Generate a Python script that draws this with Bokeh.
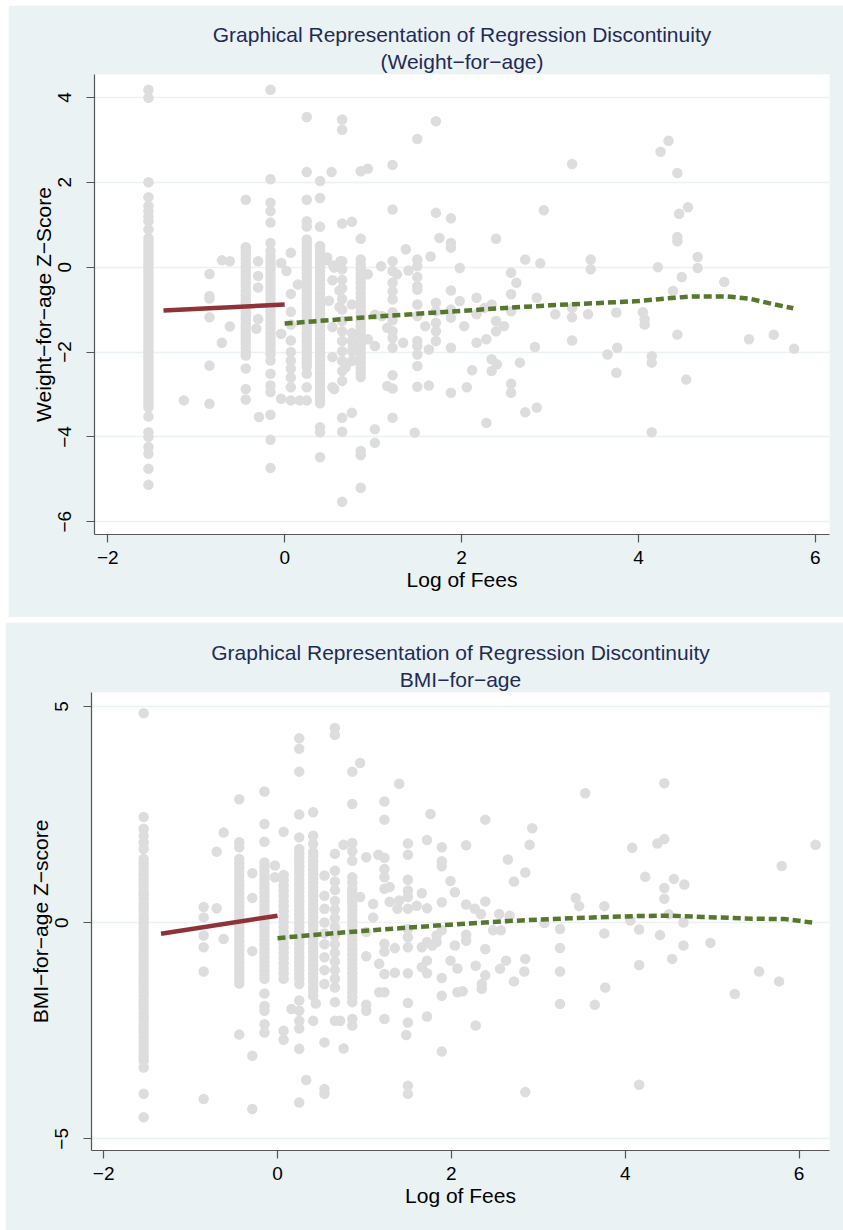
from bokeh.plotting import figure
from bokeh.models import Title, FixedTicker
from bokeh.layouts import column
from bokeh.embed import file_html
from bokeh.resources import INLINE

# ---------------- data: Weight-for-age panel ----------------
wfa_col_x = [-1.54, -0.44, -0.16, 0.07, 0.25, 0.40, 0.65, 0.86]
wfa_col_y = [
    [4.18, 3.99, 2.00, 1.65, 1.44, 1.32, 1.19, 1.08, 0.89, 0.68, 0.59, 0.51, 0.42, 0.33, 0.25, 0.16, 0.07,
     -0.02, -0.10, -0.19, -0.28, -0.36, -0.45, -0.54, -0.62, -0.71, -0.80, -0.88, -0.97, -1.06, -1.14, -1.23,
     -1.32, -1.40, -1.49, -1.58, -1.66, -1.75, -1.84, -1.92, -2.01, -2.10, -2.18, -2.27, -2.36, -2.44, -2.53,
     -2.62, -2.70, -2.79, -2.88, -2.96, -3.05, -3.14, -3.22, -3.30, -3.52, -3.89, -4.00, -4.24, -4.40, -4.75, -5.13],
    [1.59, 0.47, 0.38, 0.29, 0.19, 0.10, 0.00, -0.09, -0.19, -0.28, -0.38, -0.47, -0.57, -0.66, -0.76, -0.85,
     -0.95, -1.04, -1.14, -1.23, -1.33, -1.42, -1.52, -1.61, -1.71, -1.80, -1.90, -2.00, -2.08, -2.39, -2.87, -3.12],
    [4.18, 2.07, 1.52, 1.32, 1.05, 0.57, 0.38, 0.25, 0.15, 0.05, -0.05, -0.15, -0.25, -0.35, -0.45, -0.55, -0.65,
     -0.75, -0.85, -0.95, -1.05, -1.15, -1.25, -1.35, -1.45, -1.55, -1.65, -1.75, -1.85, -1.95, -2.05, -2.20,
     -2.51, -2.79, -2.94, -3.48, -4.07, -4.73],
    [0.34, -0.63, -1.05, -1.35, -1.73, -2.00, -2.20, -2.39, -2.60, -2.83, -3.14],
    [3.54, 2.24, 1.59, 1.08, 0.96, 0.65, 0.55, 0.45, 0.35, 0.25, 0.15, 0.05, -0.05, -0.15, -0.25, -0.35, -0.45,
     -0.55, -0.65, -0.75, -0.85, -0.95, -1.05, -1.15, -1.25, -1.35, -1.45, -1.55, -1.65, -1.75, -1.85, -1.95,
     -2.05, -2.15, -2.25, -2.35, -2.51, -2.83, -3.14],
    [2.03, 1.63, 0.95, 0.50, 0.40, 0.30, 0.20, 0.10, 0.00, -0.10, -0.20, -0.30, -0.40, -0.50, -0.60, -0.70, -0.80,
     -0.90, -1.00, -1.10, -1.20, -1.30, -1.40, -1.50, -1.60, -1.70, -1.80, -1.90, -2.00, -2.10, -2.20, -2.30,
     -2.40, -2.50, -2.60, -2.70, -2.80, -2.90, -3.00, -3.10, -3.21, -3.77, -3.89, -4.48],
    [3.48, 3.24, 1.03, 0.14, -0.05, -0.30, -0.50, -0.75, -1.00, -1.27, -1.51, -1.74, -1.98, -2.21, -2.45, -2.68,
     -3.55, -3.88, -5.53],
    [2.26, 0.67, 0.18, 0.06, -0.05, -0.16, -0.27, -0.38, -0.49, -0.60, -0.72, -0.83, -0.94, -1.05, -1.16, -1.27,
     -1.38, -1.49, -1.60, -1.71, -1.82, -1.93, -2.04, -2.15, -2.26, -2.37, -2.48, -2.59, -4.33, -4.43, -5.20],
]
wfa_pts = [
    (-1.14, -3.14),
    (-0.85, -0.16), (-0.85, -0.68), (-0.85, -0.74), (-0.85, -1.18), (-0.85, -2.32), (-0.85, -3.22),
    (-0.71, 0.16), (-0.71, -1.78), (-0.62, 0.14), (-0.62, -1.40),
    (-0.30, 0.14), (-0.30, -0.21), (-0.30, -0.48), (-0.30, -1.22), (-0.32, -1.45), (-0.29, -3.53),
    (-0.04, 0.10), (-0.04, -1.57), (-0.04, -3.10), (0.02, -0.09), (0.15, -0.41), (0.17, -3.14),
    (0.47, 0.16), (0.48, 0.23), (0.53, 2.24), (0.56, -2.87), (0.54, -0.31), (0.62, -0.55), (0.50, -0.79),
    (0.62, -0.94), (0.54, -1.41), (0.54, -2.12), (0.69, -2.36), (0.77, -1.88), (0.77, -2.20), (0.54, -2.83),
    (0.55, 0.04), (0.56, -0.01), (0.63, 0.14),
    (0.76, 1.07), (0.76, -0.88), (0.76, -1.55), (0.76, -1.74), (0.76, -1.98), (0.76, -2.21), (0.76, -3.43),
    (0.94, 2.32), (0.94, -0.17), (0.94, -1.70),
    (1.02, -1.12), (1.02, -1.86), (1.02, -3.82), (1.02, -4.14), (1.09, 0.02), (1.10, -1.15), (1.16, -1.43),
    (1.16, -2.80),
    (1.22, 2.41), (1.22, 1.36), (1.22, 0.14), (1.22, -0.09), (1.22, -0.37), (1.22, -0.57), (1.22, -0.76),
    (1.22, -1.06), (1.22, -1.25), (1.22, -1.51), (1.22, -1.67), (1.22, -1.90), (1.22, -2.55), (1.22, -2.86),
    (1.22, -3.55),
    (1.27, -0.17), (1.34, -1.78), (1.37, 0.42), (1.40, -0.08),
    (1.50, 3.02), (1.50, 0.18), (1.50, 0.02), (1.50, -0.23), (1.50, -0.45), (1.50, -0.53), (1.50, -0.88),
    (1.50, -1.15), (1.50, -1.74), (1.50, -1.86), (1.50, -2.06), (1.50, -2.33), (1.50, -2.82), (1.47, -3.90),
    (1.59, -1.39), (1.63, -1.94), (1.63, -2.79), (1.65, 0.25),
    (1.71, 3.44), (1.71, 1.28), (1.71, -0.84), (1.71, -1.04), (1.71, -1.31), (1.71, -1.51), (1.71, -1.74),
    (1.75, 0.69),
    (1.88, 1.15), (1.88, 0.57), (1.88, 0.46), (1.88, -0.55), (1.88, -1.00), (1.88, -1.19), (1.88, -1.90),
    (1.88, -2.96),
    (1.98, -0.02), (1.98, -0.80), (2.03, -1.39), (2.06, -2.83), (2.12, -2.43),
    (2.17, -0.72), (2.17, -1.11), (2.17, -1.78), (2.26, -0.96), (2.28, -1.70), (2.28, -3.67),
    (2.34, -0.88), (2.34, -2.17), (2.34, -2.45), (2.39, 0.67), (2.39, -1.27), (2.39, -1.51), (2.40, -2.29),
    (2.48, -1.39),
    (2.56, -0.13), (2.56, -0.64), (2.56, -1.04), (2.56, -2.75), (2.56, -2.96), (2.62, -0.37), (2.66, -2.25),
    (2.72, 0.18), (2.72, -3.42), (2.83, -1.88), (2.85, -0.72), (2.85, -3.31), (2.89, 0.09), (2.93, 1.34),
    (3.06, -1.11), (3.25, 2.43), (3.25, -0.96), (3.25, -1.18), (3.25, -1.73), (3.43, -1.11), (3.46, 0.18),
    (3.46, -0.05),
    (3.65, -2.06), (3.75, -1.07), (3.75, -2.49), (3.76, -1.90),
    (4.05, -1.06), (4.07, -1.23), (4.07, -1.35), (4.15, -2.10), (4.15, -2.25), (4.15, -3.89), (4.22, 0.00),
    (4.25, 2.72), (4.34, 2.98), (4.39, -0.56),
    (4.44, 2.22), (4.44, 0.71), (4.44, 0.61), (4.44, -1.59), (4.46, 1.26), (4.49, -0.23), (4.54, -2.65),
    (4.56, 1.41), (4.67, 0.24), (4.67, -0.02),
    (4.97, -0.35), (5.25, -1.70), (5.53, -1.59), (5.76, -1.92),
]
wfa_red_x = [-1.37, 0.0]
wfa_red_y = [-1.02, -0.88]
wfa_grn_x = [0.0, 0.5, 1.0, 1.5, 2.0, 2.5, 3.0, 3.5, 4.0, 4.3, 4.6, 5.0, 5.25, 5.5, 5.75]
wfa_grn_y = [-1.33, -1.25, -1.17, -1.10, -1.03, -0.96, -0.90, -0.85, -0.80, -0.74, -0.69, -0.69, -0.74, -0.86, -0.97]

# ---------------- data: BMI-for-age panel ----------------
bfa_col_x = [-1.54, -0.44, -0.15, 0.07, 0.25, 0.41, 0.54, 0.66, 0.86]
bfa_col_y = [
    [4.84, 2.44, 2.17, 2.00, 1.85, 1.70, 1.47, 1.38, 1.28, 1.19, 1.10, 1.00, 0.91, 0.82, 0.72, 0.63, 0.54, 0.44,
     0.35, 0.26, 0.16, 0.07, -0.02, -0.12, -0.21, -0.30, -0.40, -0.49, -0.58, -0.68, -0.77, -0.86, -0.96, -1.05,
     -1.14, -1.24, -1.33, -1.42, -1.52, -1.61, -1.70, -1.80, -1.89, -1.98, -2.08, -2.17, -2.26, -2.36, -2.45,
     -2.54, -2.64, -2.73, -2.82, -2.92, -3.01, -3.10, -3.19, -3.35, -3.96, -4.50],
    [2.85, 1.86, 1.74, 1.47, 1.37, 1.27, 1.17, 1.07, 0.97, 0.87, 0.77, 0.67, 0.57, 0.47, 0.37, 0.27, 0.17, 0.07,
     -0.03, -0.13, -0.23, -0.33, -0.43, -0.53, -0.63, -0.73, -0.83, -0.93, -1.03, -1.13, -1.23, -1.33, -1.41, -2.59],
    [3.03, 2.28, 1.87, 1.39, 1.29, 1.19, 1.09, 0.99, 0.89, 0.79, 0.69, 0.59, 0.49, 0.39, 0.29, 0.19, 0.09, -0.01,
     -0.11, -0.21, -0.31, -0.41, -0.51, -0.61, -0.71, -0.81, -0.91, -1.01, -1.11, -1.21, -1.30, -1.64, -1.93,
     -2.04, -2.35, -2.54],
    [2.10, 1.10, 0.98, 0.86, 0.74, 0.62, 0.50, 0.38, 0.26, 0.14, 0.02, -0.10, -0.22, -0.34, -0.46, -0.58, -0.70,
     -0.82, -0.94, -1.06, -1.18, -1.30, -2.50, -2.71],
    [4.26, 4.02, 3.49, 2.50, 1.97, 1.70, 1.60, 1.50, 1.40, 1.30, 1.20, 1.10, 1.00, 0.90, 0.80, 0.70, 0.60, 0.50,
     0.40, 0.30, 0.20, 0.10, 0.00, -0.10, -0.20, -0.30, -0.40, -0.50, -0.60, -0.70, -0.80, -0.90, -1.00, -1.10,
     -1.20, -1.30, -1.42, -1.80, -2.04, -2.27, -2.45, -2.92, -4.16],
    [2.55, 2.01, 1.82, 1.62, 1.52, 1.42, 1.32, 1.22, 1.12, 1.02, 0.92, 0.82, 0.72, 0.62, 0.52, 0.42, 0.32, 0.22,
     0.12, 0.02, -0.08, -0.18, -0.28, -0.38, -0.48, -0.58, -0.68, -0.78, -0.88, -0.98, -1.08, -1.18, -1.28,
     -1.38, -1.48, -1.58, -1.69, -2.27],
    [1.09, 0.62, 0.32, 0.00, -0.25, -0.50, -0.80, -1.10, -1.42, -2.77, -3.85, -3.96],
    [4.50, 4.34, 1.59, 1.20, 0.95, 0.75, 0.50, 0.30, 0.10, -0.10, -0.30, -0.50, -0.70, -0.90, -1.10, -1.30,
     -1.50, -1.84, -2.27],
    [3.49, 2.74, 1.84, 1.65, 1.43, 1.05, 0.92, 0.78, 0.68, 0.59, 0.49, 0.39, 0.28, 0.16, 0.05, -0.07, -0.18,
     -0.29, -0.40, -0.51, -0.62, -0.73, -0.84, -0.95, -1.06, -1.17, -1.28, -1.39, -1.50, -1.61, -1.72, -1.84,
     -2.23, -2.38],
]
bfa_pts = [
    (-0.85, 0.36), (-0.85, 0.12), (-0.85, -0.30), (-0.85, -0.57), (-0.85, -1.13), (-0.85, -4.08),
    (-0.70, 1.64), (-0.70, 0.33), (-0.62, 2.08), (-0.62, -0.38),
    (-0.29, 1.14), (-0.29, 0.57), (-0.29, -0.66), (-0.29, -3.08), (-0.29, -4.31),
    (-0.03, 1.32), (-0.03, 1.05), (0.16, -2.00), (0.33, -3.64), (0.44, -1.87),
    (0.72, -2.27), (0.76, 1.80), (0.76, -2.91), (0.95, 3.69), (0.95, 0.59),
    (1.02, 1.51), (1.02, -0.22), (1.02, -0.78), (1.02, -1.90), (1.02, -2.04), (1.10, 0.43), (1.10, 0.12),
    (1.16, 1.57), (1.17, -0.95), (1.17, -1.61),
    (1.23, 2.80), (1.23, 2.38), (1.23, 1.50), (1.23, 1.24), (1.23, 1.05), (1.23, 0.78), (1.23, -0.49),
    (1.23, -0.67), (1.23, -1.19), (1.23, -1.61), (1.23, -2.23),
    (1.29, 0.82), (1.29, 0.48), (1.35, -0.59), (1.35, -1.16), (1.38, 0.32), (1.40, 3.21), (1.40, 0.51),
    (1.50, 1.83), (1.50, 1.57), (1.50, 0.99), (1.50, 0.74), (1.50, 0.59), (1.50, 0.32), (1.50, -0.15),
    (1.50, -0.34), (1.50, -0.57), (1.50, -1.17), (1.50, -1.86), (1.50, -2.31), (1.48, -2.60), (1.50, -3.77),
    (1.50, -3.96),
    (1.60, 0.39), (1.66, 0.68), (1.72, 1.91), (1.72, 0.33), (1.72, -0.45), (1.72, -0.88), (1.72, -1.17),
    (1.72, -2.17), (1.66, -0.57), (1.66, -1.03), (1.76, 2.51), (1.78, -0.53),
    (1.89, 1.74), (1.89, 1.42), (1.89, 1.30), (1.89, 0.47), (1.89, -0.18), (1.89, -1.28), (1.89, -1.69),
    (1.89, -2.98), (1.83, -0.30), (1.83, -0.45),
    (1.99, 0.96), (1.99, -0.88), (2.04, 0.70), (2.04, -0.53), (2.07, -1.06), (2.07, -1.61), (2.13, -1.59),
    (2.17, 1.79), (2.17, 0.42), (2.17, -0.28), (2.17, -0.42), (2.27, 0.32), (2.28, -1.00), (2.28, -2.38),
    (2.34, 0.20), (2.35, -1.42), (2.35, -1.53), (2.39, 2.38), (2.39, 0.49), (2.39, -0.61), (2.39, -1.22),
    (2.48, -0.18), (2.55, 0.20), (2.57, -0.18), (2.56, -1.07), (2.63, -0.88), (2.65, 1.46), (2.67, 0.16),
    (2.72, 0.95), (2.72, -1.36), (2.84, -1.13), (2.85, 1.16), (2.85, -0.84), (2.85, -3.92), (2.90, 1.80),
    (2.93, 2.18),
    (3.07, -0.01), (3.25, -0.15), (3.25, -0.59), (3.25, -1.13), (3.25, -1.88), (3.43, 0.57), (3.47, 0.38),
    (3.54, 2.99), (3.65, -1.90), (3.76, 0.38), (3.76, -0.25), (3.77, -1.50),
    (4.06, 0.05), (4.08, 1.73), (4.16, -0.16), (4.16, -0.98), (4.16, -3.75), (4.23, 1.06), (4.37, 1.83),
    (4.40, -0.29), (4.45, 3.22), (4.45, 1.93), (4.45, 0.80), (4.45, 0.55), (4.50, 0.19), (4.54, -0.84),
    (4.56, 1.01), (4.67, 0.00), (4.67, -0.53), (4.68, 0.88), (4.98, -0.47),
    (5.26, -1.65), (5.54, -1.13), (5.77, -1.36), (5.80, 1.31), (6.19, 1.80),
]
bfa_red_x = [-1.34, 0.0]
bfa_red_y = [-0.26, 0.16]
bfa_grn_x = [0.0, 0.68, 1.2, 1.83, 2.59, 3.36, 4.12, 4.5, 4.89, 5.46, 5.84, 6.15]
bfa_grn_y = [-0.36, -0.24, -0.16, -0.07, 0.03, 0.10, 0.15, 0.16, 0.13, 0.09, 0.08, 0.00]

x_ticks = [-2, 0, 2, 4, 6]
wfa_y_ticks = [-6, -4, -2, 0, 2, 4]
bfa_y_ticks = [-5, 0, 5]

MAIN_TITLE = "Graphical Representation of Regression Discontinuity"
BG = "#EAF2F3"
FONT = "Liberation Sans"


def lab(v):
    return str(v).replace("-", "\u2212")


def make_panel(col_x, col_y, pts, rx, ry, gx, gy, xr, yr, yticks, ylabel, subtitle,
               width, height, bl, br, bt, bb, margin):
    p = figure(width=width, height=height, x_range=xr, y_range=yr, title=None,
               output_backend="svg", toolbar_location=None,
               min_border_left=bl, min_border_right=br, min_border_top=bt, min_border_bottom=bb,
               background_fill_color="white", border_fill_color=BG, outline_line_color=None)
    p.margin = margin
    xs = [cx for cx, ys in zip(col_x, col_y) for _ in ys] + [a for a, b in pts]
    ys_ = [y for ys in col_y for y in ys] + [b for a, b in pts]
    p.scatter(xs, ys_, size=10.5, fill_color="#DDDDDD", line_color=None)
    p.line(rx, ry, line_color="#8E3439", line_width=4.5)
    p.line(gx, gy, line_color="#55782D", line_width=4.5, line_dash="8 4")

    p.xgrid.visible = False
    p.ygrid.grid_line_color = BG
    p.ygrid.grid_line_width = 1.5

    for ax in (p.xaxis[0], p.yaxis[0]):
        ax.axis_line_color = "#555555"
        ax.axis_line_width = 1.2
        ax.major_tick_line_color = "#555555"
        ax.major_tick_line_width = 1.2
        ax.major_tick_out = 8
        ax.major_tick_in = 0
        ax.minor_tick_line_color = None
        ax.major_label_text_font = FONT
        ax.major_label_text_font_size = "19px"
        ax.major_label_text_color = "black"
        ax.axis_label_text_font = FONT
        ax.axis_label_text_font_size = "21px"
        ax.axis_label_text_font_style = "normal"
        ax.axis_label_text_color = "black"

    p.xaxis.ticker = FixedTicker(ticks=x_ticks)
    p.xaxis.major_label_overrides = {t: lab(t) for t in x_ticks}
    p.xaxis.axis_label = "Log of Fees"
    p.xaxis.axis_label_standoff = 1
    p.xaxis.major_label_standoff = 8

    p.yaxis.ticker = FixedTicker(ticks=yticks)
    p.yaxis.major_label_overrides = {t: lab(t) for t in yticks}
    p.yaxis.major_label_orientation = "vertical"
    p.yaxis.axis_label = ylabel
    p.yaxis.axis_label_standoff = 1
    p.yaxis.major_label_standoff = 15

    p.add_layout(Title(text=subtitle, align="center", text_font=FONT, text_font_size="21px",
                       text_font_style="normal", text_color="#1E2B58", standoff=4,
                       text_line_height=0.85), "above")
    p.add_layout(Title(text=MAIN_TITLE, align="center", text_font=FONT, text_font_size="21px",
                       text_font_style="normal", text_color="#1E2B58", standoff=0,
                       text_line_height=0.75), "above")
    return p


p1 = make_panel(wfa_col_x, wfa_col_y, wfa_pts, wfa_red_x, wfa_red_y, wfa_grn_x, wfa_grn_y,
                (-2.15, 6.16), (-6.30, 4.54), wfa_y_ticks, "Weight\u2212for\u2212age Z\u2212Score",
                "(Weight\u2212for\u2212age)", 835, 612, 86, 9, 69, 83, (5, 0, 0, 8))
p2 = make_panel(bfa_col_x, bfa_col_y, bfa_pts, bfa_red_x, bfa_red_y, bfa_grn_x, bfa_grn_y,
                (-2.14, 6.35), (-5.27, 5.32), bfa_y_ticks, "BMI\u2212for\u2212age Z\u2212score",
                "BMI\u2212for\u2212age", 838, 608, 85, 14, 70, 80, (5, 0, 0, 5))

layout = column(p1, p2, spacing=0)
open("out.html", "w").write(file_html(layout, INLINE))
